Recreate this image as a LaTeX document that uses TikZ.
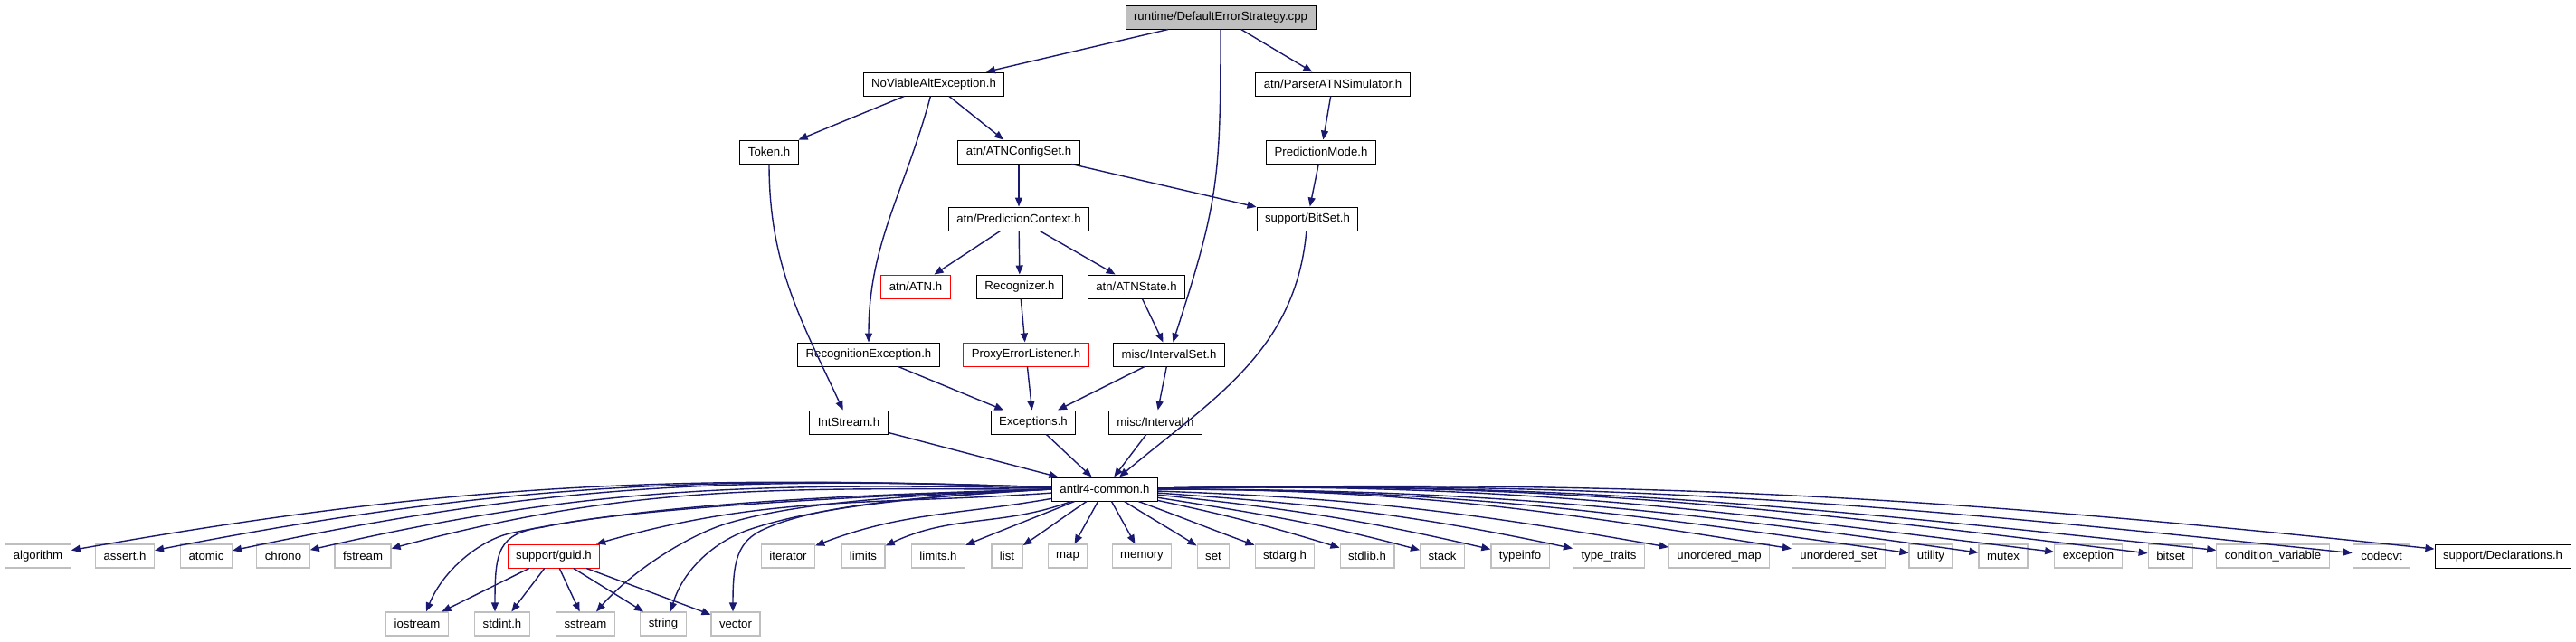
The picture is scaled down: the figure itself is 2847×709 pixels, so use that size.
\documentclass[tikz,border=0pt]{standalone}
\usepackage{fontspec}
\setmainfont{Liberation Sans}
\usetikzlibrary{arrows.meta}
\definecolor{navy}{RGB}{25,25,112}
\definecolor{lgrey}{RGB}{191,191,191}

\begin{document}
\begin{tikzpicture}[x=0.5pt, y=0.5pt,
    every node/.style={font=\fontsize{6.6}{7}\selectfont, inner xsep=4.5pt, inner ysep=0pt, minimum height=13pt},
    hdr/.style={draw=black, line width=0.5pt, fill=white},
    sys/.style={draw=lgrey, line width=0.6pt, fill=white},
    miss/.style={draw=red, line width=0.5pt, fill=white},
    dep/.style={draw=navy, line width=0.7pt, -{Triangle[length=5pt, width=4pt]}}]
    \useasboundingbox (0,0) rectangle (2847,-709);

    \node[hdr, fill=lgrey] (root) at (1349,-19) {runtime/DefaultErrorStrategy.cpp};
    \node[hdr] (nva) at (1032,-93) {NoViableAltException.h};
    \node[hdr] (parser) at (1473,-93) {atn/ParserATNSimulator.h};
    \node[hdr] (token) at (850,-168) {Token.h};
    \node[hdr] (configset) at (1126,-168) {atn/ATNConfigSet.h};
    \node[hdr] (predmode) at (1460,-168) {PredictionMode.h};
    \node[hdr] (predctx) at (1126,-242) {atn/PredictionContext.h};
    \node[hdr] (bitsetsup) at (1445,-242) {support/BitSet.h};
    \node[miss] (atn) at (1012,-317) {atn/ATN.h};
    \node[hdr] (recognizer) at (1127,-317) {Recognizer.h};
    \node[hdr] (atnstate) at (1256,-317) {atn/ATNState.h};
    \node[hdr] (recexc) at (960,-392) {RecognitionException.h};
    \node[miss] (proxy) at (1134,-392) {ProxyErrorListener.h};
    \node[hdr] (intervalset) at (1292,-392) {misc/IntervalSet.h};
    \node[hdr] (intstream) at (938,-467) {IntStream.h};
    \node[hdr] (exceptions) at (1142,-467) {Exceptions.h};
    \node[hdr] (interval) at (1277,-467) {misc/Interval.h};
    \node[hdr] (common) at (1221,-541) {antlr4-common.h};

    \foreach \n/\x/\t in {algorithm/42/algorithm, asserth/138/assert.h, atomic/228/atomic, chrono/313/chrono,
        fstream/401/fstream, iterator/871/iterator, limits/954/limits, limitsh/1037/limits.h, list/1113/list,
        map/1180/map, memory/1262/memory, set/1341/set, stdarg/1420/stdarg.h, stdlib/1511/stdlib.h,
        stack/1594/stack, typeinfo/1680/typeinfo, typetraits/1778/type\_traits, umap/1900/unordered\_map,
        uset/2032/unordered\_set, utility/2134/utility, mutex/2214/mutex, exception/2308/exception,
        bitset/2399/bitset, condvar/2512/condition\_variable, codecvt/2632/codecvt}
        \node[sys] (\n) at (\x,-615) {\t};
    \node[miss] (guid) at (612,-615) {support/guid.h};
    \node[hdr] (decl) at (2766,-615) {support/Declarations.h};

    \foreach \n/\x/\t in {iostream/461/iostream, stdint/555/stdint.h, sstream/647/sstream, string/733/string, vector/813/vector}
        \node[sys] (\n) at (\x,-690) {\t};

    \draw[dep] (root) -- (nva);
    \draw[dep] (root) -- (parser);
    \draw[dep] (root) to[out=-90, in=72, looseness=1.2] (intervalset);
    \draw[dep] (nva) -- (token);
    \draw[dep] (nva) -- (configset);
    \draw[dep] (nva) to[out=-105, in=90] (recexc);
    \draw[dep] (parser) -- (predmode);
    \draw[dep] (token) to[out=-90, in=115] (intstream);
    \draw[dep] (configset) -- (predctx);
    \draw[dep] (configset) -- (bitsetsup);
    \draw[dep] (predmode) -- (bitsetsup);
    \draw[dep] (predctx) -- (atn);
    \draw[dep] (predctx) -- (recognizer);
    \draw[dep] (predctx) -- (atnstate);
    \draw[dep] (bitsetsup) to[out=-95, in=40] (common);
    \draw[dep] (recognizer) -- (proxy);
    \draw[dep] (atnstate) -- (intervalset);
    \draw[dep] (recexc) -- (exceptions);
    \draw[dep] (proxy) -- (exceptions);
    \draw[dep] (intervalset) -- (exceptions);
    \draw[dep] (intervalset) -- (interval);
    \draw[dep] (intstream) -- (common);
    \draw[dep] (exceptions) -- (common);
    \draw[dep] (interval) -- (common);

    \foreach \n/\o/\i in {algorithm/178/10, asserth/178/11, atomic/178/12, chrono/179/13, fstream/180/15,
        guid/184/16, iterator/190/21, limits/200/25, limitsh/202/22, list/214/34, map/241/61, memory/-61/119,
        set/-32/148, stdarg/-20/160, stdlib/-12/163, stack/-9/165, typeinfo/-6/167, typetraits/-4/168,
        umap/-2/170, uset/0/171, utility/0/172, mutex/0/172, exception/1/173, bitset/1/173, condvar/1/174,
        codecvt/1/174, decl/1/174}
        \draw[dep] (common) to[out=\o, in=\i] (\n);

    \draw[dep] (common.west) .. controls (900,-548) and (700,-560) .. (563,-590)
        .. controls (530,-598) and (490,-630) .. ([xshift=5pt]iostream.north);
    \draw[dep] (common.west) .. controls (900,-550) and (680,-565) .. (600,-583)
        .. controls (550,-590) and (547,-610) .. ([xshift=-4pt]stdint.north);
    \draw[dep] (common.west) .. controls (1000,-548) and (880,-555) .. (800,-580)
        .. controls (760,-593) and (700,-630) .. ([xshift=6pt]sstream.north);
    \draw[dep] (common.west) .. controls (1000,-550) and (900,-562) .. (830,-585)
        .. controls (790,-598) and (755,-630) .. ([xshift=4pt]string.north);
    \draw[dep] (common.west) .. controls (1000,-550) and (900,-560) .. (845,-585)
        .. controls (815,-598) and (810,-620) .. ([xshift=-1.5pt]vector.north);

    \foreach \n in {iostream, stdint, sstream, string, vector}
        \draw[dep] (guid) -- (\n);
\end{tikzpicture}
\end{document}
